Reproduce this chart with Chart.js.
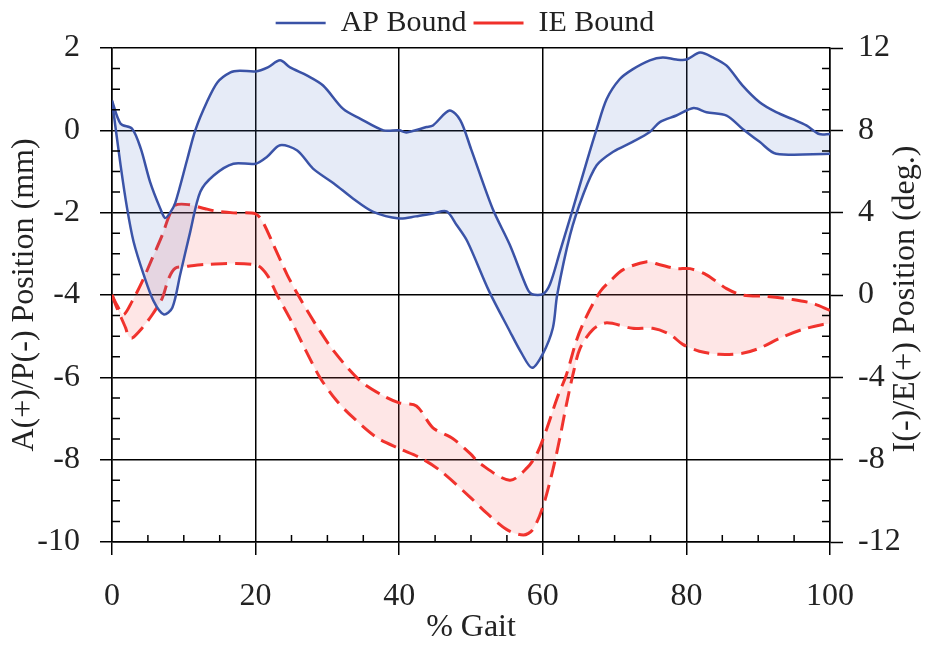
<!DOCTYPE html>
<html>
<head>
<meta charset="utf-8">
<script src="https://cdn.jsdelivr.net/npm/chart.js@4/dist/chart.umd.min.js"></script>
<style>
  html, body { margin: 0; padding: 0; background: #fff; }
  #wrap { width: 930px; height: 647px; }
</style>
</head>
<body>
<div id="wrap"><canvas id="myChart"></canvas></div>
<script>
// AP bound (mm, left axis)
var apUpperGait = [0, 1.2, 2.8, 4, 5.3, 6.7, 7.4, 8.1, 8.8, 10.5, 11.6, 13.2, 14.7, 16.5, 17.8, 20, 21.7, 23.4, 24.8, 27.2, 29.4, 32.2, 34.6, 37.8, 40, 41, 43.8, 44.7, 47, 48.5, 50, 53, 55.4, 57.8, 58.5, 60, 61, 62.4, 64.2, 66.1, 67.5, 68.9, 70.7, 72.5, 74.9, 76.7, 78.6, 80, 81.9, 83.7, 85.6, 87.8, 90.2, 92.5, 94.8, 96.7, 98.5, 100];
var apUpperMm = [0.72, 0.16, 0.04, -0.44, -1.25, -1.89, -2.13, -2.0, -1.77, -0.69, 0, 0.68, 1.17, 1.41, 1.45, 1.43, 1.53, 1.7, 1.53, 1.33, 1.09, 0.52, 0.28, 0, 0, -0.05, 0.08, 0.12, 0.48, 0.25, -0.45, -1.9, -2.78, -3.83, -3.98, -3.98, -3.74, -2.94, -1.9, -0.77, 0.03, 0.76, 1.24, 1.48, 1.7, 1.77, 1.72, 1.72, 1.89, 1.77, 1.57, 1.09, 0.68, 0.44, 0.27, 0.12, -0.09, -0.09];

var apLowerGait = [0, 1.2, 2.1, 3, 4.4, 5.8, 7.2, 8.4, 9.5, 10.9, 12.3, 14.2, 16.9, 20, 21.6, 23.4, 25.8, 28, 30.9, 33.6, 36.4, 40, 42.3, 44.7, 46.6, 48, 49.5, 52.5, 55.4, 57, 58.5, 60, 61.4, 62, 63.8, 65.6, 67.5, 69.8, 72.5, 74.9, 76.3, 78.6, 81, 82.8, 85.6, 87.8, 90.2, 92.5, 100];
var apLowerMm = [0.72, -0.85, -1.89, -2.7, -3.5, -4.15, -4.47, -4.31, -3.5, -2.46, -1.49, -1.09, -0.81, -0.81, -0.64, -0.36, -0.49, -0.93, -1.29, -1.66, -1.98, -2.14, -2.09, -2.02, -1.97, -2.3, -2.7, -3.9, -4.88, -5.4, -5.77, -5.43, -4.8, -4.0, -2.54, -1.57, -0.85, -0.52, -0.28, -0.04, 0.2, 0.36, 0.54, 0.44, 0.36, 0.04, -0.28, -0.57, -0.57];

// IE bound (deg, right axis)
var ieUpperGait = [0, 0.7, 1.6, 2.8, 4.2, 5.6, 7, 7.9, 8.8, 10.7, 13, 14.6, 16.9, 20, 21, 22.5, 24.4, 26.2, 28.1, 30.9, 34.6, 37.8, 40, 42.4, 44.7, 47.5, 49.9, 51.3, 55.4, 57.8, 59.2, 60.6, 62, 63.3, 64.7, 66, 68, 69.3, 71.2, 74.5, 76.3, 78.6, 80.5, 82.8, 85.6, 87.8, 91.2, 94.8, 97.6, 100];
var ieUpperDeg = [0, -0.5, -0.96, -0.31, 0.65, 1.78, 2.91, 3.79, 4.36, 4.39, 4.19, 4.07, 3.99, 3.94, 3.55, 2.43, 0.98, -0.17, -1.28, -2.73, -4.18, -4.9, -5.24, -5.39, -6.45, -6.98, -7.71, -8.2, -9.0, -8.4, -7.7, -6.45, -5.0, -3.86, -2.2, -1.1, 0.17, 0.65, 1.23, 1.62, 1.47, 1.28, 1.28, 0.98, 0.31, 0, -0.07, -0.22, -0.41, -0.75];

var ieLowerGait = [0, 0.7, 1.9, 2.3, 2.8, 4.2, 5.6, 7, 7.9, 8.8, 10.2, 13, 20, 21.6, 23, 24.8, 27, 29, 31.3, 33.6, 36.9, 40, 42.9, 45.7, 49.9, 52.2, 55, 57.3, 58.6, 60, 61.4, 62.4, 63.3, 64.2, 65.2, 67, 68.9, 72.5, 75.3, 77.7, 79.5, 81.8, 84.6, 87.8, 90.2, 93, 96.2, 99, 100];
var ieLowerDeg = [0, -0.64, -1.6, -2.0, -2.09, -1.6, -0.96, -0.15, 0.81, 1.3, 1.38, 1.49, 1.47, 0.98, 0, -1.15, -2.7, -4.03, -5.14, -5.96, -6.93, -7.46, -7.9, -8.53, -9.83, -10.6, -11.4, -11.66, -11.4, -10.3, -8.5, -6.9, -5.3, -3.86, -2.58, -1.67, -1.35, -1.62, -1.62, -1.91, -2.4, -2.73, -2.88, -2.83, -2.58, -2.1, -1.67, -1.43, -1.4];

var xTitle = '% Gait';
var leftTitle = 'A(+)/P(-) Position (mm)';
var rightTitle = 'I(-)/E(+) Position (deg.)';

function pairs(xs, ys) {
    return xs.map(function (x, i) { return {x: x, y: ys[i]}; });
}

var blue = '#3a52a6';
var red = '#f0302a';
var serif = "'Liberation Serif', 'Times New Roman', serif";

Chart.defaults.font.family = serif;
Chart.defaults.color = '#222';

// short inner ticks between the labelled ones
var minorTicks = {
    id: 'minorTicks',
    afterDraw: function (chart) {
        var ctx = chart.ctx;
        var area = chart.chartArea;
        var x = chart.scales.x, y = chart.scales.y, y2 = chart.scales.y2;
        ctx.save();
        ctx.strokeStyle = '#000';
        ctx.lineWidth = 1.5;
        ctx.beginPath();
        for (var v = -10; v <= 2; v += 0.5) {
            if (v % 2 === 0) continue;
            var py = y.getPixelForValue(v);
            ctx.moveTo(area.left, py);
            ctx.lineTo(area.left + 8, py);
        }
        for (var d = -12; d <= 12; d += 1) {
            if (d % 4 === 0) continue;
            var pd = y2.getPixelForValue(d);
            ctx.moveTo(area.right, pd);
            ctx.lineTo(area.right - 8, pd);
        }
        for (var g = 0; g <= 100; g += 5) {
            if (g % 20 === 0) continue;
            var px = x.getPixelForValue(g);
            ctx.moveTo(px, area.bottom);
            ctx.lineTo(px, area.bottom - 7);
        }
        ctx.stroke();

        // right axis title reads bottom to top
        ctx.fillStyle = '#222';
        ctx.font = '32px ' + serif;
        ctx.textAlign = 'center';
        ctx.textBaseline = 'middle';
        ctx.translate(y2.right - 24, (area.top + area.bottom) / 2 + 4);
        ctx.rotate(-Math.PI / 2);
        ctx.fillText(rightTitle, 0, 0);
        ctx.restore();
    }
};

var ctx = document.getElementById('myChart').getContext('2d');
var myChart = new Chart(ctx, {
    type: 'line',
    data: {
        datasets: [
            {
                label: 'AP Bound',
                data: pairs(apUpperGait, apUpperMm),
                borderColor: blue,
                borderWidth: 2.5,
                backgroundColor: 'rgba(80,110,200,0.14)',
                fill: '+1',
                yAxisID: 'y'
            },
            {
                label: 'AP lower',
                data: pairs(apLowerGait, apLowerMm),
                borderColor: blue,
                borderWidth: 2.5,
                fill: false,
                yAxisID: 'y'
            },
            {
                label: 'IE Bound',
                data: pairs(ieUpperGait, ieUpperDeg),
                borderColor: red,
                borderWidth: 3,
                borderDash: [16, 8],
                backgroundColor: 'rgba(250,100,100,0.16)',
                fill: '+1',
                yAxisID: 'y2'
            },
            {
                label: 'IE lower',
                data: pairs(ieLowerGait, ieLowerDeg),
                borderColor: red,
                borderWidth: 3,
                borderDash: [16, 8],
                fill: false,
                yAxisID: 'y2'
            }
        ]
    },
    options: {
        responsive: true,
        maintainAspectRatio: false,
        animation: false,
        layout: { padding: { top: 1, left: 0, right: 0, bottom: 0 } },
        elements: {
            point: { radius: 0 },
            line: { tension: 0.3 }
        },
        plugins: {
            tooltip: { enabled: false },
            legend: {
                position: 'top',
                labels: {
                    font: { size: 30 },
                    color: '#222',
                    usePointStyle: true,
                    pointStyle: 'line',
                    pointStyleWidth: 50,
                    padding: 7,
                    filter: function (item) {
                        return item.datasetIndex === 0 || item.datasetIndex === 2;
                    }
                }
            }
        },
        scales: {
            x: {
                type: 'linear',
                min: 0,
                max: 100,
                ticks: { stepSize: 20, font: { size: 32 }, padding: 22, color: '#222' },
                grid: { color: '#000', lineWidth: 1.5, tickLength: 13, tickColor: '#000', tickWidth: 1.5 },
                border: { color: '#000', width: 1.5 },
                title: { display: true, text: xTitle, font: { size: 32 }, padding: { top: 0, bottom: 0 }, color: '#222' },
                afterFit: function (scale) { scale.height = 105; }
            },
            y: {
                position: 'left',
                min: -10,
                max: 2,
                ticks: { stepSize: 2, font: { size: 32 }, padding: 20, color: '#222' },
                grid: { color: '#000', lineWidth: 1.5, tickLength: 12, tickColor: '#000', tickWidth: 1.5 },
                border: { color: '#000', width: 1.5 },
                title: { display: true, text: leftTitle, font: { size: 32 }, padding: { top: 5, bottom: 0 }, color: '#222' },
                afterFit: function (scale) { scale.width = 112; }
            },
            y2: {
                position: 'right',
                min: -12,
                max: 12,
                ticks: { stepSize: 4, font: { size: 32 }, padding: 15, color: '#222' },
                grid: { drawOnChartArea: false, tickLength: 13, tickColor: '#000', tickWidth: 1.5 },
                border: { color: '#000', width: 1.5 },
                afterFit: function (scale) { scale.width = 100; }
            }
        }
    },
    plugins: [minorTicks]
});
</script>
</body>
</html>
